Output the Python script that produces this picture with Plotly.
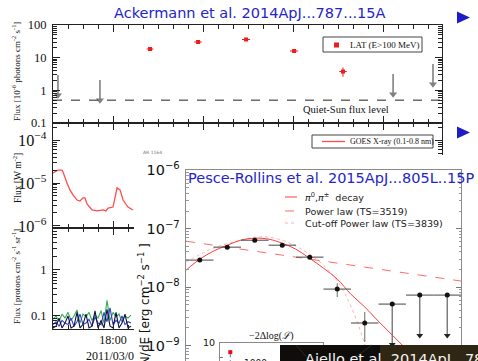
import plotly.graph_objects as go

W, H = 478, 361
SERIF = "Liberation Serif"
SANS = "DejaVu Sans"
TITLE_BLUE = "#2424c8"

# ---------------- Fermi-LAT light curve (hours after 2011-03-07 00:00 UT) ----------------
LAT_T = [20.47, 23.67, 26.87, 30.07, 33.33]
LAT_T_HALF = [0.22, 0.25, 0.27, 0.27, 0.25]
LAT_FLUX = [18.4, 30.2, 36.0, 16.0, 3.76]
LAT_ERR_HI = [1.3, 2.0, 2.3, 1.2, 1.25]
LAT_ERR_LO = [1.2, 1.8, 2.1, 1.1, 1.15]
UL_T = [14.33, 17.13, 36.67, 39.33]
UL_FLUX = [2.95, 2.07, 3.17, 6.4]
QUIET_SUN = 0.5

# ---------------- GOES 0.1-0.8 nm flux ----------------
GOES_T = [14.0, 14.33, 14.6, 14.67, 14.93, 15.13, 15.33, 15.6, 15.8, 16.0, 16.13, 16.27,
          16.6, 16.93, 17.33, 17.53, 17.67, 18.0, 18.13, 18.27, 18.47, 18.67, 19.0, 19.33]
GOES_FLUX = [1.71e-5, 2.0e-5, 2.0e-5, 1.8e-5, 1.0e-5, 6.9e-6, 5.3e-6, 4.0e-6, 3.8e-6, 4.5e-6,
             4.5e-6, 3.25e-6, 2.35e-6, 2.23e-6, 2.35e-6, 2.23e-6, 2.6e-6, 2.75e-6, 4.5e-6,
             7.7e-6, 6.9e-6, 4.0e-6, 2.75e-6, 2.35e-6]

# ---------------- proton channels ----------------
PROTON_T = [14.0, 14.2, 14.4, 14.6, 14.8, 15.0, 15.2, 15.4, 15.6, 15.8, 16.0, 16.2, 16.4, 16.6,
            16.8, 17.0, 17.2, 17.4, 17.6, 17.8, 18.0, 18.2, 18.4, 18.6, 18.8, 19.0, 19.2]
PROTON_GREEN = [0.085, 0.10, 0.075, 0.11, 0.09, 0.12, 0.08, 0.10, 0.135, 0.07, 0.11, 0.095,
                0.12, 0.08, 0.105, 0.09, 0.13, 0.07, 0.22, 0.08, 0.12, 0.095, 0.11, 0.075,
                0.10, 0.09, 0.105]
PROTON_BLUE = [0.065, 0.075, 0.06, 0.08, 0.07, 0.065, 0.09, 0.06, 0.075, 0.11, 0.065, 0.07,
               0.085, 0.06, 0.095, 0.07, 0.065, 0.12, 0.075, 0.15, 0.065, 0.08, 0.07, 0.10,
               0.065, 0.075, 0.07]
PROTON_NAVY = [0.055, 0.06, 0.09, 0.055, 0.07, 0.10, 0.055, 0.06, 0.12, 0.055, 0.065, 0.11,
               0.055, 0.06, 0.13, 0.055, 0.08, 0.055, 0.14, 0.06, 0.055, 0.12, 0.055, 0.07,
               0.11, 0.055, 0.06]
TIME_TICKS = [18, 24, 30, 36]
TIME_LABELS = ["18:00<br>2011/03/07", "00:00<br>2011/03/08", "06:00<br>2011/03/08",
               "12:00<br>2011/03/08"]

# ---------------- gamma-ray spectrum (E in GeV) ----------------
BIN_EDGES = [0.1, 0.1585, 0.2512, 0.3981, 0.631, 1.0, 1.585, 2.512, 3.981, 6.31, 10.0]
SED = [2.90e-8, 4.83e-8, 6.35e-8, 5.22e-8, 3.26e-8, 9.25e-9, 2.43e-9]
SED_ERR_HI = [0.20e-8, 0.35e-8, 0.45e-8, 0.38e-8, 0.25e-8, 2.45e-9, 1.31e-9]
SED_ERR_LO = [0.19e-8, 0.33e-8, 0.42e-8, 0.36e-8, 0.24e-8, 2.50e-9, 1.28e-9]
SED_UL = [5.12e-9, 7.3e-9, 7.3e-9]

PION_E = [0.1, 0.126, 0.158, 0.2, 0.25, 0.316, 0.4, 0.5, 0.63, 0.79, 1.0, 1.26, 1.58, 2.0,
          2.5, 3.16, 4.0, 5.0]
PION_SED = [1.95e-8, 3.01e-8, 4.12e-8, 5.22e-8, 6.35e-8, 6.88e-8, 6.62e-8, 5.65e-8, 4.46e-8,
            3.13e-8, 2.11e-8, 1.37e-8, 7.59e-9, 4.55e-9, 2.62e-9, 1.51e-9, 8.71e-10, 5.22e-10]
CPL_E = [0.1, 0.158, 0.25, 0.316, 0.4, 0.5, 0.63, 0.79, 1.0, 1.26, 1.58, 2.0, 2.5]
CPL_SED = [2.67e-8, 4.65e-8, 6.35e-8, 7.16e-8, 7.16e-8, 6.35e-8, 5.03e-8, 3.67e-8, 2.38e-8,
           1.27e-8, 4.73e-9, 1.02e-9, 1.17e-10]
PL_E = [0.1, 10.0]
PL_SED = [6.11e-8, 1.27e-8]

INSET_X = [0.1]
INSET_Y = [8.7]


def px(x):
    return x / W


def py(y):
    return 1 - y / H


fig = go.Figure()

# ---- LAT panel ----
fig.add_trace(go.Scatter(
    x=LAT_T, y=LAT_FLUX, mode="markers", xaxis="x", yaxis="y",
    marker=dict(symbol="square", size=4, color="#ee1c1c"),
    error_y=dict(type="data", array=LAT_ERR_HI, arrayminus=LAT_ERR_LO, color="#ee1c1c",
                 thickness=1, width=0),
    error_x=dict(type="data", array=LAT_T_HALF, color="#ee1c1c", thickness=1, width=0),
    showlegend=False, hoverinfo="skip"))

ul_tip = [u * 10 ** (-0.62) for u in UL_FLUX]
seg_x, seg_y = [], []
for t, u, tip in zip(UL_T, UL_FLUX, ul_tip):
    seg_x += [t, t, None]
    seg_y += [u, tip, None]
fig.add_trace(go.Scatter(x=seg_x, y=seg_y, mode="lines", xaxis="x", yaxis="y",
                         line=dict(color="#808080", width=1.6),
                         showlegend=False, hoverinfo="skip"))
fig.add_trace(go.Scatter(x=UL_T, y=ul_tip, mode="markers", xaxis="x", yaxis="y",
                         marker=dict(symbol="triangle-down", size=7, color="#808080"),
                         showlegend=False, hoverinfo="skip"))

# ---- GOES panel ----
fig.add_trace(go.Scatter(x=GOES_T, y=GOES_FLUX, mode="lines", xaxis="x2", yaxis="y2",
                         line=dict(color="#ff4c4c", width=1.3),
                         showlegend=False, hoverinfo="skip"))

# ---- proton panel ----
for vals, col in [(PROTON_GREEN, "#2fae54"), (PROTON_BLUE, "#3a3ad0"), (PROTON_NAVY, "#101040")]:
    fig.add_trace(go.Scatter(x=PROTON_T, y=vals, mode="lines", xaxis="x3", yaxis="y3",
                             line=dict(color=col, width=1.1),
                             showlegend=False, hoverinfo="skip"))

# ---- white backing for the spectrum figure ----
fig.add_trace(go.Scatter(x=[], y=[], xaxis="x4", yaxis="y4", showlegend=False))

# ---- gamma-ray spectrum ----
centers = [(BIN_EDGES[i] * BIN_EDGES[i + 1]) ** 0.5 for i in range(len(BIN_EDGES) - 1)]
ex_hi = [BIN_EDGES[i + 1] - centers[i] for i in range(len(centers))]
ex_lo = [centers[i] - BIN_EDGES[i] for i in range(len(centers))]
nd = len(SED)

fig.add_trace(go.Scatter(x=PL_E, y=PL_SED, mode="lines", xaxis="x5", yaxis="y5",
                         line=dict(color="#ff6a6a", width=1, dash="dash"),
                         showlegend=False, hoverinfo="skip"))
fig.add_trace(go.Scatter(x=CPL_E, y=CPL_SED, mode="lines", xaxis="x5", yaxis="y5",
                         line=dict(color="#ffb0b0", width=1, dash="dot", shape="spline"),
                         showlegend=False, hoverinfo="skip"))
fig.add_trace(go.Scatter(x=PION_E, y=PION_SED, mode="lines", xaxis="x5", yaxis="y5",
                         line=dict(color="#ff3b3b", width=1, shape="spline"),
                         showlegend=False, hoverinfo="skip"))
fig.add_trace(go.Scatter(
    x=centers[:nd], y=SED, mode="markers", xaxis="x5", yaxis="y5",
    marker=dict(size=5, color="#111"),
    error_x=dict(type="data", array=ex_hi[:nd], arrayminus=ex_lo[:nd], color="#555",
                 thickness=1.1, width=0),
    error_y=dict(type="data", array=SED_ERR_HI, arrayminus=SED_ERR_LO, color="#777",
                 thickness=1.1, width=0),
    showlegend=False, hoverinfo="skip"))

ul_c = centers[nd:]
sed_tip = [u * 10 ** (-0.69) for u in SED_UL]
sx, sy = [], []
for c, u, tip in zip(ul_c, SED_UL, sed_tip):
    sx += [c, c, None]
    sy += [u, tip, None]
fig.add_trace(go.Scatter(x=sx, y=sy, mode="lines", xaxis="x5", yaxis="y5",
                         line=dict(color="#777", width=1.4),
                         showlegend=False, hoverinfo="skip"))
fig.add_trace(go.Scatter(
    x=ul_c, y=SED_UL, mode="markers", xaxis="x5", yaxis="y5",
    marker=dict(size=5, color="#111"),
    error_x=dict(type="data", array=ex_hi[nd:], arrayminus=ex_lo[nd:], color="#555",
                 thickness=1.1, width=0),
    showlegend=False, hoverinfo="skip"))
fig.add_trace(go.Scatter(x=ul_c, y=sed_tip, mode="markers", xaxis="x5", yaxis="y5",
                         marker=dict(symbol="triangle-down", size=6, color="#222"),
                         showlegend=False, hoverinfo="skip"))

# ---- likelihood inset ----
fig.add_trace(go.Scatter(x=INSET_X, y=INSET_Y, mode="markers", xaxis="x6", yaxis="y6",
                         marker=dict(symbol="square", size=4, color="#e01010"),
                         showlegend=False, hoverinfo="skip"))
fig.add_trace(go.Scatter(x=INSET_X * 2, y=[INSET_Y[0] - 0.3, 7.0], mode="lines",
                         xaxis="x6", yaxis="y6",
                         line=dict(color="#4a5ae0", width=1, dash="dot"),
                         showlegend=False, hoverinfo="skip"))

# ---------------- axes ----------------
time_dom = [px(53), px(442)]


def time_axis(anchor, labels):
    return dict(
        domain=time_dom, anchor=anchor, range=[14, 39.93], showline=True, linecolor="#222",
        linewidth=1, mirror="allticks", ticks="inside", ticklen=7, tickcolor="#222",
        tickmode="array", tickvals=TIME_TICKS, ticktext=TIME_LABELS,
        showticklabels=labels, tickfont=dict(family=SERIF, size=12, color="#111"),
        minor=dict(tickmode="linear", tick0=0, dtick=1, ticks="inside", ticklen=4,
                   tickcolor="#222", showgrid=False),
        showgrid=False, zeroline=False, automargin=False)


def log_axis(anchor, dom, rng, size, fmt="B"):
    return dict(
        domain=dom, anchor=anchor, type="log", range=rng, dtick=1, exponentformat=fmt,
        showline=True, linecolor="#222", linewidth=1, mirror="allticks", ticks="inside",
        ticklen=7, tickcolor="#222", tickfont=dict(family=SERIF, size=size, color="#111"),
        minor=dict(ticks="inside", ticklen=4, tickcolor="#222", showgrid=False),
        ticklabelstandoff=3, showgrid=False, zeroline=False, automargin=False)


fig.update_layout(
    xaxis=time_axis("y", False),
    yaxis=log_axis("x", [py(123), py(25)], [-1, 2], 12.5),
    xaxis2=time_axis("y2", False),
    yaxis2=log_axis("x2", [py(228), py(123)], [-6.05, -3.6], 13, "power"),
    xaxis3=time_axis("y3", True),
    yaxis3=log_axis("x3", [py(329), py(228)], [-1.283, 0.913], 12.5),
    xaxis4=dict(domain=[px(134), 1], anchor="y4", visible=False, range=[0, 1]),
    yaxis4=dict(domain=[0, py(155)], anchor="x4", visible=False, range=[0, 1]),
    xaxis5=dict(domain=[px(186), px(461)], anchor="y5", type="log", range=[-1, 1],
                side="top", showline=True, linecolor="#8a8a8a", showticklabels=False,
                ticks="", showgrid=False, zeroline=False, automargin=False),
    yaxis5=dict(domain=[0, py(170)], anchor="x5", type="log", range=[-9.265, -5.995],
                dtick=1, exponentformat="power", showline=True, linecolor="#8a8a8a",
                mirror="ticks", ticks="inside", ticklen=5, tickcolor="#777",
                minor=dict(ticks="inside", ticklen=2.5, tickcolor="#999", showgrid=False),
                tickfont=dict(family=SANS, size=11.5, color="#111"), ticklabelstandoff=3,
                showgrid=False, zeroline=False, automargin=False),
    xaxis6=dict(domain=[px(220), px(323)], anchor="y6", range=[0, 1], side="top",
                showline=True, linecolor="#8a8a8a", showticklabels=False, ticks="",
                showgrid=False, zeroline=False, automargin=False),
    yaxis6=dict(domain=[0, py(343)], anchor="x6", range=[7.43, 10.02], tickvals=[8, 10],
                showline=True, linecolor="#8a8a8a", mirror=True, ticks="inside", ticklen=3,
                tickcolor="#777", tickfont=dict(family=SANS, size=9.5, color="#111"),
                ticklabelstandoff=2, showgrid=False, zeroline=False, automargin=False),
)

fig.add_hline(y=QUIET_SUN, line=dict(color="#222", width=1, dash="dash"),
              xref="x", yref="y", layer="above")

# ---------------- text ----------------
ann = []


def text(x, y, s, size, family=SERIF, color="#111", xa="center", ya="middle", angle=0, **kw):
    ann.append(dict(x=px(x), y=py(y), xref="paper", yref="paper", text=s, showarrow=False,
                    xanchor=xa, yanchor=ya, textangle=angle,
                    font=dict(family=family, size=size, color=color), **kw))


text(249.5, 13, "Ackermann et al. 2014ApJ...787...15A", 14.5, SANS, TITLE_BLUE)
text(186, 178, "Pesce-Rollins et al. 2015ApJ...805L..15P", 14.5, SANS, TITLE_BLUE, xa="left")

text(16, 72, "Flux [10<sup>-6</sup> photons cm<sup>-2</sup> s<sup>-1</sup>]", 9, angle=-90)
text(17, 178, "Flux [W m<sup>-2</sup>]", 9.5, angle=-90)
text(16, 277, "Flux [protons cm<sup>-2</sup> s<sup>-1</sup> sr<sup>-1</sup>]", 9, angle=-90)
text(143.5, 317, "E<sup>2</sup> dN/dE [erg cm<sup>−2</sup> s<sup>−1</sup> ]", 12, SANS,
     angle=-90)

text(346, 110, "Quiet-Sun flux level", 10.5)
text(348, 44.5, "LAT (E&gt;100 MeV)", 9, xa="left")
text(348, 141.5, "GOES X-ray (0.1-0.8 nm)", 8, xa="left")
text(152, 152, "AR 1164", 4.5, SANS, "#777")

text(303, 197, "<i>π</i><sup>0</sup>,<i>π</i><sup>±</sup>  decay", 9.5, SANS, "#222",
     xa="left")
text(303, 211, "Power law (TS=3519)", 9.5, SANS, "#222", xa="left")
text(303, 223, "Cut-off Power law (TS=3839)", 9.5, SANS, "#222", xa="left")

text(271.5, 336, "−2Δlog(<i>ℒ</i>)", 10)
text(256, 362.5, "1000", 9, SANS)
text(303, 358.5, "Ajello et al. 2014ApJ...787...15A", 14.5, SANS, "#f4f4f4", xa="left")

fig.update_layout(annotations=ann)

# ---------------- legend frames, bullets and the dark banner ----------------
shapes = []


def rect(x0, y0, x1, y1, fill, line="#333", lw=1, layer="above"):
    shapes.append(dict(type="rect", xref="paper", yref="paper", x0=px(x0), x1=px(x1),
                       y0=py(y1), y1=py(y0), fillcolor=fill, layer=layer,
                       line=dict(color=line, width=lw)))


def seg(x0, y0, x1, y1, color, width=1, dash="solid"):
    shapes.append(dict(type="line", xref="paper", yref="paper", x0=px(x0), x1=px(x1),
                       y0=py(y0), y1=py(y1), layer="above",
                       line=dict(color=color, width=width, dash=dash)))


def poly(points, fill, layer="above"):
    path = "M" + " L".join(f"{px(a):.5f},{py(b):.5f}" for a, b in points) + " Z"
    shapes.append(dict(type="path", xref="paper", yref="paper", path=path, fillcolor=fill,
                       line=dict(width=0), layer=layer))


poly([(455, 124), (478, 96), (478, 153), (466, 156)], "#e8edf6", layer="below")

rect(323, 37, 422, 52, "white", "#444", 1)
rect(334, 42.5, 339, 47.5, "#ee1c1c", "#ee1c1c", 0)
rect(312, 135, 433, 148, "white", "#444", 1)
seg(322, 141.5, 345, 141.5, "#ff4c4c", 1.3)

seg(285, 197, 297, 197, "#ff3b3b", 1)
seg(285, 211, 297, 211, "#ff6a6a", 1, "dash")
seg(285, 223, 297, 223, "#ffb0b0", 1.2, "dot")

poly([(457, 11.5), (470, 17.5), (457, 23.5)], "#1c1cc8")
poly([(457, 126.5), (470, 132.5), (457, 138.5)], "#1c1cc8")

rect(280, 345, 478, 362, "#0e0d0b", "#0e0d0b", 0)
rect(380, 345, 478, 362, "rgba(110,85,35,0.35)", "rgba(0,0,0,0)", 0)
seg(296, 345, 310, 361, "#2c2a26", 1)
seg(350, 361, 372, 345, "#2c2a26", 1)

fig.update_layout(shapes=shapes)

fig.update_layout(
    width=W, height=H, margin=dict(l=0, r=0, t=0, b=0), autosize=False,
    paper_bgcolor="white", plot_bgcolor="white", showlegend=False,
    font=dict(family=SERIF, color="#111"),
)

fig.write_html("out.html")
